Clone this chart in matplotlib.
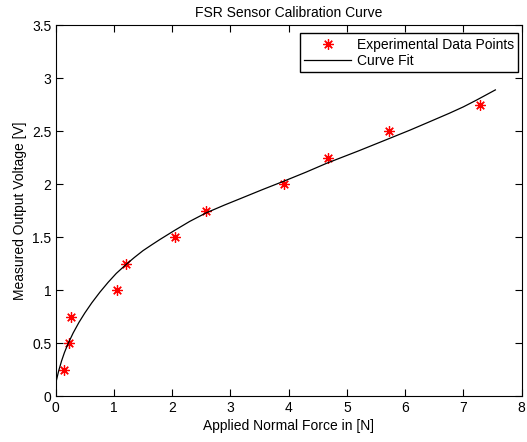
import matplotlib
matplotlib.use("Agg")
import matplotlib.pyplot as plt

plt.rcParams['font.family'] = ['Liberation Sans', 'DejaVu Sans']

# measured points
force = [0.15, 0.22, 0.27, 1.05, 1.2, 2.04, 2.58, 3.92, 4.67, 5.72, 7.28]
voltage = [0.25, 0.5, 0.75, 1.0, 1.25, 1.5, 1.75, 2.0, 2.25, 2.5, 2.75]

# fitted curve
fit_x = [0, 0.05, 0.1, 0.15, 0.21, 0.3, 0.4, 0.5, 0.62, 0.76, 0.9, 1.04, 1.12,
         1.21, 1.35, 1.5, 1.65, 1.79, 2.04, 2.3, 2.58, 2.9, 3.17, 3.55, 3.92,
         4.3, 4.66, 5.2, 5.72, 6.08, 6.4, 6.76, 7.0, 7.23, 7.55]
fit_y = [0.124, 0.239, 0.334, 0.414, 0.495, 0.599, 0.699, 0.787, 0.883, 0.984,
         1.076, 1.16, 1.20, 1.245, 1.31, 1.375, 1.43, 1.48, 1.565, 1.65, 1.73,
         1.805, 1.865, 1.95, 2.03, 2.115, 2.2, 2.315, 2.43, 2.51, 2.585, 2.67,
         2.73, 2.795, 2.89]

xticks = [0, 1, 2, 3, 4, 5, 6, 7, 8]
yticks = [0, 0.5, 1, 1.5, 2, 2.5, 3, 3.5]
ytick_labels = ['0', '0.5', '1', '1.5', '2', '2.5', '3', '3.5']

fig = plt.figure(figsize=(5.27, 4.42), dpi=100)
ax = fig.add_axes([0.1057, 0.103, 0.884, 0.84])

# matlab style asterisk
ax.plot(force, voltage, linestyle='none', marker=(8, 2, 0), color='red',
        markersize=7.5, markeredgewidth=0.9, label='Experimental Data Points')
ax.plot(fit_x, fit_y, '-', color='black', linewidth=0.9, label='Curve Fit')

ax.set_xlim(0, 8)
ax.set_ylim(0, 3.5)
ax.set_xticks(xticks)
ax.set_yticks(yticks)
ax.set_yticklabels(ytick_labels)
ax.tick_params(direction='in', top=True, right=True, length=5, width=0.8,
               labelsize=10, pad=3)
for s in ax.spines.values():
    s.set_linewidth(0.8)

ax.set_title('FSR Sensor Calibration Curve', fontsize=10, pad=6)
ax.set_xlabel('Applied Normal Force in [N]', fontsize=10, labelpad=3)
ax.set_ylabel('Measured Output Voltage [V]', fontsize=10, labelpad=4)

leg = ax.legend(loc='upper right', bbox_to_anchor=(0.993, 0.978), borderaxespad=0,
                fontsize=10, fancybox=False, framealpha=1, edgecolor='black',
                handlelength=3.4, borderpad=0.3, labelspacing=0.2,
                handletextpad=0.4, numpoints=1)
leg.get_frame().set_linewidth(1.0)

fig.savefig('out.png', dpi=100)
